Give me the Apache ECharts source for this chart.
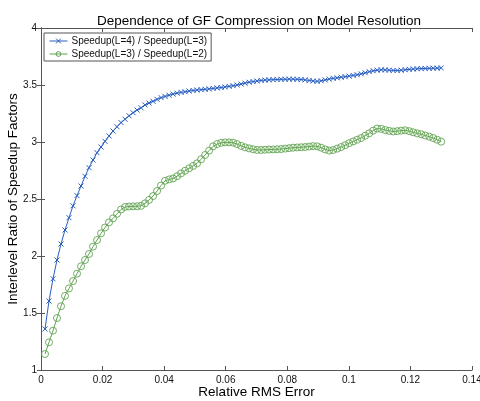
<!DOCTYPE html>
<html>
<head>
<meta charset="utf-8">
<title>Dependence of GF Compression on Model Resolution</title>
<script src="https://cdn.jsdelivr.net/npm/echarts@6/dist/echarts.min.js"></script>
<style>
  html, body { margin: 0; padding: 0; background: #fff; }
  #chart { width: 480px; height: 401px; }
</style>
</head>
<body>
<div id="chart"></div>
<script>
// Relative RMS error of each sample
const rmsError = [
  0.0013, 0.0026, 0.0039, 0.0052, 0.0065, 0.0078, 0.0091, 0.0104, 0.0117, 0.013,
  0.0143, 0.0156, 0.0169, 0.0182, 0.0195, 0.0208, 0.0221, 0.0234, 0.0247, 0.026,
  0.0273, 0.0286, 0.0299, 0.0312, 0.0325, 0.0338, 0.0351, 0.0364, 0.0377, 0.039,
  0.0403, 0.0416, 0.0429, 0.0442, 0.0455, 0.0468, 0.0481, 0.0494, 0.0507, 0.052,
  0.0533, 0.0546, 0.0559, 0.0572, 0.0585, 0.0598, 0.0611, 0.0624, 0.0637, 0.065,
  0.0663, 0.0676, 0.0689, 0.0702, 0.0715, 0.0728, 0.0741, 0.0754, 0.0767, 0.078,
  0.0793, 0.0806, 0.0819, 0.0832, 0.0845, 0.0858, 0.0871, 0.0884, 0.0897, 0.091,
  0.0923, 0.0936, 0.0949, 0.0962, 0.0975, 0.0988, 0.1001, 0.1014, 0.1027, 0.104,
  0.1053, 0.1066, 0.1079, 0.1092, 0.1105, 0.1118, 0.1131, 0.1144, 0.1157, 0.117,
  0.1183, 0.1196, 0.1209, 0.1222, 0.1235, 0.1248, 0.1261, 0.1274, 0.1287, 0.13
];

// Speedup(L=4) / Speedup(L=3)
const ratio43 = [
  1.36, 1.605, 1.80, 1.965, 2.105, 2.228, 2.336, 2.44, 2.53, 2.614,
  2.699, 2.775, 2.842, 2.906, 2.956, 3.006, 3.053, 3.096, 3.134, 3.17,
  3.20, 3.23, 3.257, 3.28, 3.30, 3.325, 3.342, 3.357, 3.374, 3.389,
  3.40, 3.41, 3.42, 3.428, 3.435, 3.441, 3.447, 3.452, 3.456, 3.459,
  3.462, 3.466, 3.47, 3.474, 3.478, 3.483, 3.488, 3.494, 3.50, 3.508,
  3.516, 3.524, 3.53, 3.535, 3.54, 3.543, 3.545, 3.547, 3.548, 3.55,
  3.55, 3.551, 3.551, 3.55, 3.548, 3.545, 3.54, 3.535, 3.532, 3.537,
  3.545, 3.552, 3.558, 3.563, 3.568, 3.573, 3.578, 3.584, 3.59, 3.598,
  3.607, 3.617, 3.625, 3.63, 3.633, 3.632, 3.63, 3.628, 3.627, 3.63,
  3.634, 3.637, 3.64, 3.642, 3.644, 3.645, 3.646, 3.647, 3.648, 3.65
];

// Speedup(L=3) / Speedup(L=2)
const ratio32 = [
  1.14, 1.243, 1.345, 1.456, 1.559, 1.65, 1.716, 1.78, 1.845, 1.91,
  1.965, 2.018, 2.082, 2.14, 2.199, 2.25, 2.295, 2.33, 2.37, 2.408,
  2.43, 2.434, 2.436, 2.436, 2.44, 2.462, 2.492, 2.526, 2.57, 2.618,
  2.66, 2.672, 2.68, 2.70, 2.725, 2.748, 2.769, 2.79, 2.813, 2.848,
  2.886, 2.924, 2.962, 2.982, 2.993, 2.997, 2.997, 2.994, 2.982, 2.966,
  2.953, 2.944, 2.936, 2.93, 2.93, 2.932, 2.934, 2.935, 2.936, 2.938,
  2.942, 2.946, 2.95, 2.952, 2.954, 2.956, 2.96, 2.964, 2.962, 2.95,
  2.935, 2.925, 2.93, 2.942, 2.956, 2.972, 2.99, 3.005, 3.02, 3.035,
  3.055, 3.076, 3.1, 3.118, 3.115, 3.105, 3.098, 3.092, 3.095, 3.1,
  3.103, 3.095, 3.085, 3.076, 3.068, 3.057, 3.047, 3.035, 3.02, 3.003
];

const seriesNames = ['Speedup(L=4) / Speedup(L=3)', 'Speedup(L=3) / Speedup(L=2)'];
const xTicks = { min: 0, max: 0.14, interval: 0.02 };
const yTicks = { min: 1, max: 4, interval: 0.5 };

const FONT = '"Liberation Sans", Arial, Helvetica, sans-serif';
const AXIS_COLOR = '#555';
const BLUE = '#2a5fc0';
const GREEN = '#62a352';

// Thin-stroked cross marker
const CROSS = 'path://M0,0L10,10M10,0L0,10';

function pairs(xs, ys) {
  return xs.map((x, i) => [x, ys[i]]);
}

const frameAxis = (extra) => Object.assign({
  type: 'value',
  axisLine: { show: true, lineStyle: { color: AXIS_COLOR, width: 1 } },
  axisTick: { show: true, inside: true, length: 4, lineStyle: { color: AXIS_COLOR } },
  splitLine: { show: false },
  axisLabel: { show: false }
}, extra);

const chart = echarts.init(document.getElementById('chart'), null, { renderer: 'canvas' });

chart.setOption({
  animation: false,
  backgroundColor: '#fff',
  title: {
    text: 'Dependence of GF Compression on Model Resolution',
    left: 254,
    top: 9,
    textAlign: 'center',
    textStyle: { fontFamily: FONT, fontSize: 13.5, fontWeight: 'normal', color: '#000' }
  },
  legend: {
    data: seriesNames,
    orient: 'vertical',
    left: 44,
    top: 33,
    itemWidth: 18,
    itemHeight: 6,
    itemGap: 3,
    padding: [3, 4, 2, 5],
    borderColor: AXIS_COLOR,
    borderWidth: 1,
    backgroundColor: '#fff',
    lineStyle: { width: 1 },
    itemStyle: { borderWidth: 1 },
    textStyle: { fontFamily: FONT, fontSize: 10, color: '#111', padding: [0, 0, 0, -1] }
  },
  grid: { left: 41, right: 8, top: 28, bottom: 31, containLabel: false, outerBoundsMode: 'none' },
  xAxis: [
    frameAxis({
      position: 'bottom',
      min: xTicks.min, max: xTicks.max, interval: xTicks.interval,
      name: 'Relative RMS Error',
      nameLocation: 'middle',
      nameGap: 15,
      nameMoveOverlap: false,
      nameTextStyle: { fontFamily: FONT, fontSize: 13.5, color: '#000' },
      axisLabel: { show: true, fontFamily: FONT, fontSize: 10, color: '#111', margin: 5 }
    }),
    frameAxis({ position: 'top', min: xTicks.min, max: xTicks.max, interval: xTicks.interval })
  ],
  yAxis: [
    frameAxis({
      position: 'left',
      min: yTicks.min, max: yTicks.max, interval: yTicks.interval,
      name: 'Interlevel Ratio of Speedup Factors',
      nameLocation: 'middle',
      nameGap: 21,
      nameMoveOverlap: false,
      nameTextStyle: { fontFamily: FONT, fontSize: 13.5, color: '#000' },
      axisLabel: { show: true, fontFamily: FONT, fontSize: 10, color: '#111', margin: 4 }
    }),
    frameAxis({ position: 'right', min: yTicks.min, max: yTicks.max, interval: yTicks.interval })
  ],
  series: [
    {
      name: seriesNames[0],
      type: 'line',
      xAxisIndex: 0,
      yAxisIndex: 0,
      data: pairs(rmsError, ratio43),
      symbol: CROSS,
      symbolSize: 5,
      showAllSymbol: true,
      lineStyle: { color: BLUE, width: 1 },
      itemStyle: { color: BLUE, borderColor: BLUE, borderWidth: 1 }
    },
    {
      name: seriesNames[1],
      type: 'line',
      xAxisIndex: 0,
      yAxisIndex: 0,
      data: pairs(rmsError, ratio32),
      symbol: 'circle',
      symbolSize: 7,
      showAllSymbol: true,
      lineStyle: { color: GREEN, width: 1 },
      itemStyle: { color: 'rgba(0,0,0,0)', borderColor: GREEN, borderWidth: 0.9 }
    }
  ]
});
</script>
</body>
</html>
